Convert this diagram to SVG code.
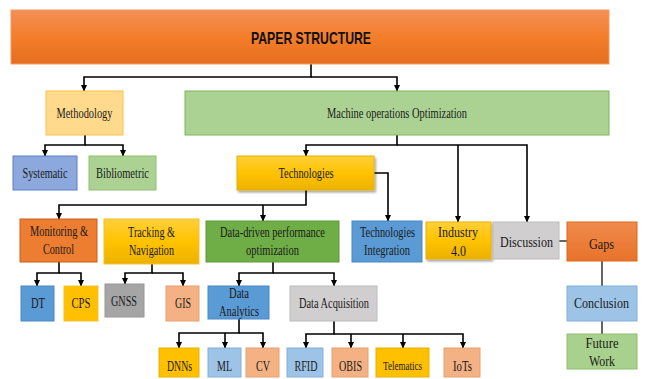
<svg xmlns="http://www.w3.org/2000/svg" width="647" height="379" viewBox="0 0 647 379">
<style>
.t{font-family:"Liberation Serif","Times New Roman",serif;font-size:14.5px;fill:#1a1a1a;text-anchor:middle}
.b{stroke-width:1}
.ca{fill:none;stroke:#000;stroke-width:1.6;marker-end:url(#ah)}
.g{fill:none;stroke:#555;stroke-width:1.8}
</style>
<defs>
<marker id="ah" markerUnits="userSpaceOnUse" markerWidth="7" markerHeight="7" refX="6" refY="3.5" orient="auto"><path d="M0,0.5 L6.5,3.5 L0,6.5 z" fill="#000"/></marker>
<linearGradient id="gOr" x1="0" y1="0" x2="0" y2="1"><stop offset="0" stop-color="#F39057"/><stop offset="0.5" stop-color="#F47D2A"/><stop offset="1" stop-color="#E46F1E"/></linearGradient>
<linearGradient id="gGold" x1="0" y1="0" x2="0" y2="1"><stop offset="0" stop-color="#FFCF3A"/><stop offset="0.5" stop-color="#FFC300"/><stop offset="1" stop-color="#ECB100"/></linearGradient>
<linearGradient id="gOr2" x1="0" y1="0" x2="0" y2="1"><stop offset="0" stop-color="#F08B4C"/><stop offset="1" stop-color="#E8722A"/></linearGradient>
<filter id="sh" x="-10%" y="-10%" width="125%" height="135%"><feDropShadow dx="1.5" dy="2" stdDeviation="1.2" flood-color="#000" flood-opacity="0.35"/></filter>
</defs>

<g id="connectors">
<path class="ca" d="M311,64 V77 H84 V91"/>
<path class="ca" d="M311,77 H397 V91"/>
<path class="ca" d="M85,135 V145 H45 V156"/>
<path class="ca" d="M85,145 H123 V156"/>
<path class="ca" d="M397,135 V145 H306 V156"/>
<path class="ca" d="M397,145 H527 V222"/>
<path class="ca" d="M458,145 V222"/>
<path class="ca" d="M374,173 H388 V221"/>
<path class="ca" d="M306,190 V205 H59 V219"/>
<path class="ca" d="M263,205 V221"/>
<path class="ca" d="M59,262 V273 H37 V286"/>
<path class="ca" d="M59,273 H81 V286"/>
<path class="ca" d="M152,264 V273 H125 V284"/>
<path class="ca" d="M152,273 H183 V286"/>
<path class="ca" d="M273,262 V273 H239 V286"/>
<path class="ca" d="M273,273 H334 V286"/>
<path class="ca" d="M239,319 V333 H179 V348"/>
<path class="ca" d="M239,333 H263 V348"/>
<path class="ca" d="M225,333 V348"/>
<path class="ca" d="M334,321 V334 H306 V348"/>
<path class="ca" d="M334,334 H463 V348"/>
<path class="ca" d="M351,334 V348"/>
<path class="ca" d="M403,334 V348"/>
<path class="g" d="M559,241 H567"/>
<path class="g" d="M602,261 V286"/>
<path class="g" d="M602,321 V334"/>
</g>

<g id="paper-structure"><rect x="11" y="10" width="598" height="54" fill="url(#gOr)" stroke="#F29A62" class="b"/><text x="311" y="44" style="font-family:'Liberation Sans',Arial,sans-serif;font-weight:bold;font-size:17px;fill:#111;text-anchor:middle" textLength="120" lengthAdjust="spacingAndGlyphs">PAPER STRUCTURE</text></g>

<g id="methodology"><rect x="46" y="91" width="77" height="44" fill="#FFD98C" stroke="#F6C447" class="b"/><text class="t" x="84.5" y="118" textLength="56" lengthAdjust="spacingAndGlyphs">Methodology</text></g>
<g id="machine-ops"><rect x="185" y="91" width="424" height="44" fill="#ABD293" stroke="#7FB35B" class="b"/><text class="t" x="397" y="118" textLength="140" lengthAdjust="spacingAndGlyphs">Machine operations Optimization</text></g>

<g id="systematic"><rect x="13" y="156" width="64" height="34" fill="#8CA8DC" stroke="#5B80C8" class="b"/><text class="t" x="45" y="178" textLength="45" lengthAdjust="spacingAndGlyphs">Systematic</text></g>
<g id="bibliometric"><rect x="89" y="156" width="67" height="34" fill="#ABD293" stroke="#8DBF6E" class="b"/><text class="t" x="122.5" y="178" textLength="53" lengthAdjust="spacingAndGlyphs">Bibliometric</text></g>
<g id="technologies"><rect x="237" y="156" width="137" height="34" fill="url(#gGold)" stroke="#E8B200" class="b" filter="url(#sh)"/><text class="t" x="306" y="178" textLength="55" lengthAdjust="spacingAndGlyphs">Technologies</text></g>

<g id="monitoring"><rect x="20" y="219" width="77" height="43" fill="#ED7D31" stroke="#C9611E" class="b"/><text class="t" x="59" y="236" textLength="58" lengthAdjust="spacingAndGlyphs">Monitoring &amp;</text><text class="t" x="58.5" y="254" textLength="31" lengthAdjust="spacingAndGlyphs">Control</text></g>
<g id="tracking"><rect x="104" y="219" width="95" height="45" fill="url(#gGold)" stroke="#F2C12E" class="b"/><text class="t" x="151.5" y="237" textLength="47" lengthAdjust="spacingAndGlyphs">Tracking &amp;</text><text class="t" x="151.5" y="255" textLength="45" lengthAdjust="spacingAndGlyphs">Navigation</text></g>
<g id="data-driven"><rect x="206" y="221" width="133" height="41" fill="#6FAD46" stroke="#5E9A38" class="b"/><text class="t" x="272.5" y="237" textLength="105" lengthAdjust="spacingAndGlyphs">Data-driven performance</text><text class="t" x="272.5" y="255" textLength="53" lengthAdjust="spacingAndGlyphs">optimization</text></g>
<g id="tech-integration"><rect x="352" y="221" width="70" height="41" fill="#5B9BD5" stroke="#4A87C2" class="b"/><text class="t" x="387.5" y="237" textLength="55" lengthAdjust="spacingAndGlyphs">Technologies</text><text class="t" x="387" y="255" textLength="46" lengthAdjust="spacingAndGlyphs">Integration</text></g>
<g id="industry"><rect x="426" y="222" width="65" height="37" fill="url(#gGold)" stroke="#E8B200" class="b" filter="url(#sh)"/><text class="t" x="458" y="237" textLength="40" lengthAdjust="spacingAndGlyphs">Industry</text><text class="t" x="458.5" y="256" textLength="15" lengthAdjust="spacingAndGlyphs">4.0</text></g>
<g id="discussion"><rect x="493" y="222" width="66" height="37" fill="#D0CECE" stroke="#BDBBBB" class="b"/><text class="t" x="526.5" y="247" textLength="53" lengthAdjust="spacingAndGlyphs">Discussion</text></g>
<g id="gaps"><rect x="567" y="222" width="70" height="39" fill="url(#gOr2)" stroke="#D9691F" class="b"/><text class="t" x="601.5" y="249" textLength="25" lengthAdjust="spacingAndGlyphs">Gaps</text></g>

<g id="dt"><rect x="21" y="286" width="33" height="35" fill="#5B9BD5" stroke="#4A87C2" class="b"/><text class="t" x="38" y="308" textLength="14" lengthAdjust="spacingAndGlyphs">DT</text></g>
<g id="cps"><rect x="64" y="286" width="34" height="35" fill="#FFC000" stroke="#F2C12E" class="b"/><text class="t" x="81" y="308" textLength="19" lengthAdjust="spacingAndGlyphs">CPS</text></g>
<g id="gnss"><rect x="105" y="284" width="39" height="33" fill="#A5A5A5" stroke="#959595" class="b"/><text class="t" x="124" y="306" textLength="26" lengthAdjust="spacingAndGlyphs">GNSS</text></g>
<g id="gis"><rect x="166" y="286" width="33" height="35" fill="#F4B183" stroke="#E9A070" class="b"/><text class="t" x="183" y="308" textLength="16" lengthAdjust="spacingAndGlyphs">GIS</text></g>
<g id="data-analytics"><rect x="208" y="286" width="61" height="33" fill="#5B9BD5" stroke="#4A87C2" class="b"/><text class="t" x="239" y="298" textLength="20" lengthAdjust="spacingAndGlyphs">Data</text><text class="t" x="239" y="316" textLength="40" lengthAdjust="spacingAndGlyphs">Analytics</text></g>
<g id="data-acquisition"><rect x="290" y="286" width="87" height="35" fill="#D0CECE" stroke="#BDBBBB" class="b"/><text class="t" x="334" y="308" textLength="70" lengthAdjust="spacingAndGlyphs">Data Acquisition</text></g>
<g id="conclusion"><rect x="567" y="286" width="70" height="35" fill="#9DC3E6" stroke="#84B0DA" class="b"/><text class="t" x="601.5" y="308" textLength="55" lengthAdjust="spacingAndGlyphs">Conclusion</text></g>
<g id="future-work"><rect x="567" y="334" width="70" height="35" fill="#A9D18E" stroke="#8DBF6E" class="b"/><text class="t" x="602" y="348" textLength="33" lengthAdjust="spacingAndGlyphs">Future</text><text class="t" x="602" y="366" textLength="26" lengthAdjust="spacingAndGlyphs">Work</text></g>

<g id="dnns"><rect x="159" y="348" width="40" height="29" fill="#FFC000" stroke="#E8B200" class="b"/><text class="t" x="179.5" y="371" textLength="25" lengthAdjust="spacingAndGlyphs">DNNs</text></g>
<g id="ml"><rect x="208" y="348" width="33" height="29" fill="#9DC3E6" stroke="#84B0DA" class="b"/><text class="t" x="224.5" y="371" textLength="15" lengthAdjust="spacingAndGlyphs">ML</text></g>
<g id="cv"><rect x="246" y="348" width="33" height="29" fill="#F4B183" stroke="#E9A070" class="b"/><text class="t" x="263" y="371" textLength="14" lengthAdjust="spacingAndGlyphs">CV</text></g>
<g id="rfid"><rect x="287" y="348" width="36" height="29" fill="#9DC3E6" stroke="#84B0DA" class="b"/><text class="t" x="306" y="371" textLength="23" lengthAdjust="spacingAndGlyphs">RFID</text></g>
<g id="obis"><rect x="332" y="348" width="36" height="29" fill="#F4B183" stroke="#E9A070" class="b"/><text class="t" x="350.5" y="371" textLength="23" lengthAdjust="spacingAndGlyphs">OBIS</text></g>
<g id="telematics"><rect x="376" y="348" width="53" height="29" fill="#FFC000" stroke="#E8B200" class="b"/><text class="t" x="402.5" y="370" style="font-size:13px" textLength="39" lengthAdjust="spacingAndGlyphs">Telematics</text></g>
<g id="iots"><rect x="444" y="348" width="36" height="29" fill="#F4B183" stroke="#E9A070" class="b"/><text class="t" x="462.5" y="371" textLength="19" lengthAdjust="spacingAndGlyphs">IoTs</text></g>
</svg>
